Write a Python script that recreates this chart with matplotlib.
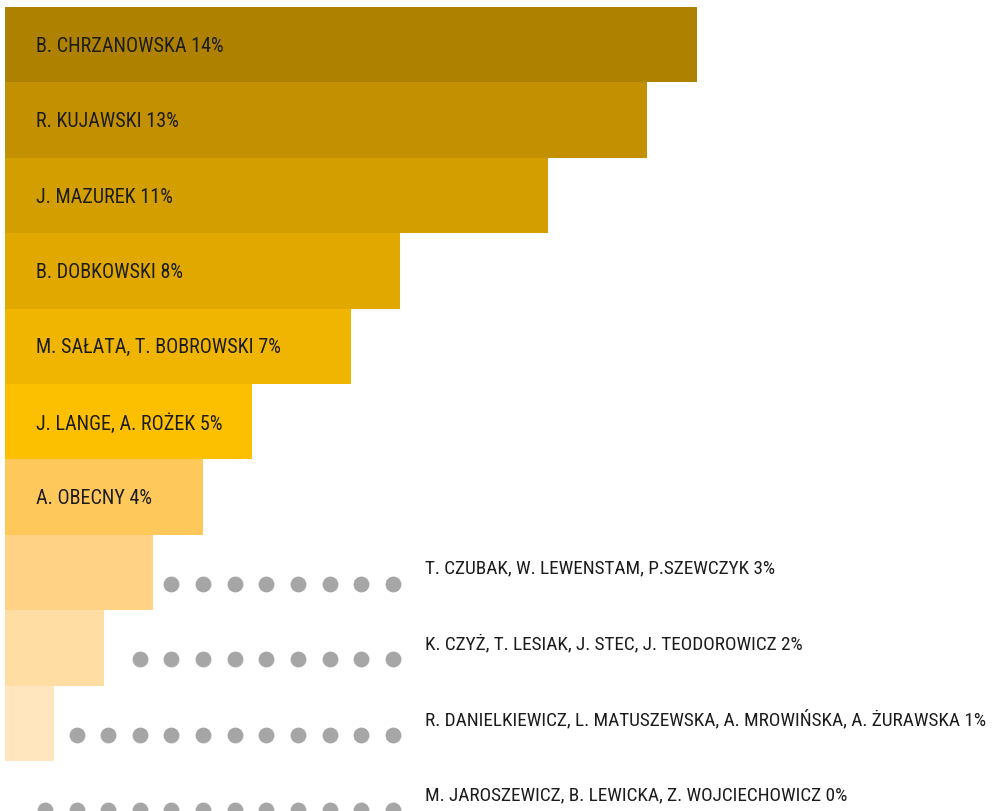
import matplotlib
matplotlib.use("Agg")
import matplotlib.pyplot as plt
from matplotlib import font_manager
import numpy as np

# data
names = ["B. Chrzanowska", "R. Kujawski", "J. Mazurek", "B. Dobkowski",
         "M. Sałata, T. Bobrowski", "J. Lange, A. Rożek", "A. Obecny",
         "T. Czubak, W. Lewenstam, P.Szewczyk",
         "K. Czyż, T. Lesiak, J. Stec, J. Teodorowicz",
         "R. Danielkiewicz, L. Matuszewska, A. Mrowińska, A. Żurawska",
         "M. Jaroszewicz, B. Lewicka, Z. Wojciechowicz"]
shares = [14, 13, 11, 8, 7, 5, 4, 3, 2, 1, 0]
colors = ["#AE8200", "#C29000", "#D39E00", "#E1A900", "#F0B500", "#FDC000",
          "#FFC85A", "#FFD285", "#FFDDA3", "#FFE6BF", "#FFEFD6"]
inside_limit = 4  # bars this wide or wider carry the label inside


def pick_font():
    for fam in ["Roboto Condensed", "Liberation Sans Narrow", "Open Sans Condensed"]:
        try:
            font_manager.findfont(fam, fallback_to_default=False)
            return fam
        except Exception:
            pass
    return "DejaVu Sans"


family = pick_font()

fig = plt.figure(figsize=(9.95, 8.11), dpi=100)
ax = fig.add_axes([0, 0, 1, 1])
px_x = 49.4   # pixels per percent
px_y = 75.4   # pixels per row
ax.set_xlim(-5 / px_x, (995 - 5) / px_x)
ax.set_ylim(-0.5 + (811 - 7) / px_y, -0.5 - 7 / px_y)
ax.axis("off")

rows = np.arange(len(shares))
ax.barh(rows, shares, height=1.0, color=colors, left=0, linewidth=0)

label_x_out = 8.5
dot_end = 7.85
dot_step = 0.64
for i, (name, v) in enumerate(zip(names, shares)):
    txt = f"{name.upper()} {v}%"
    if v >= inside_limit:
        ax.text(0.63, i + 0.02, txt, va="center", ha="left", fontsize=14.5,
                family=family, fontstretch="condensed", color="#1c1c1c")
    else:
        ax.text(label_x_out, i - 0.05, txt, va="center", ha="left", fontsize=13.9,
                family=family, fontstretch="condensed", color="#1c1c1c")
        xs = np.arange(dot_end, v + 0.3, -dot_step)
        ax.scatter(xs, np.full(len(xs), i + 0.15), s=130, color="#a6a6a6",
                   linewidths=0, zorder=3)

fig.savefig("out.png", dpi=100)
